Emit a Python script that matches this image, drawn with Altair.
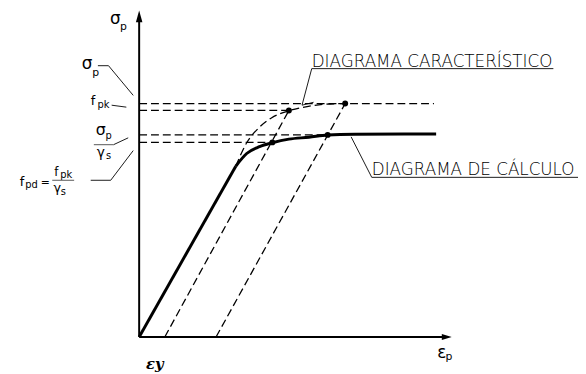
import altair as alt
import pandas as pd

# ---- readings (strain units, stress units) ----
# elastic branch of the design diagram
elastic_eps = [0.0, 30.9]
elastic_sig = [0.0, 52.3]
# curved part of the design diagram (solid)
calc_eps = [30.9, 34.4, 38.5, 42.6, 47.9, 54.3, 60.3, 69.1, 95.0]
calc_sig = [52.3, 56.2, 58.3, 59.5, 60.6, 61.2, 61.9, 62.1, 62.2]
# characteristic diagram (dashed)
char_eps = [30.9, 34.4, 38.2, 42.3, 47.9, 53.3, 59.6, 65.9, 94.3]
char_sig = [52.3, 59.5, 64.0, 67.1, 69.3, 70.5, 71.3, 71.5, 71.5]
# parallel offset lines (dashed)
off_start = [8.2, 24.6]
off_end_eps = [47.9, 65.9]
off_end_sig = [69.4, 71.5]
# horizontal reference levels (dashed): sigma_p, fpk, sigma_p/gs, fpd
level_sig = [71.5, 69.4, 61.9, 59.6]
level_end = [65.9, 47.9, 60.3, 42.6]
# marked points
dot_eps = [47.9, 65.9, 42.6, 60.3]
dot_sig = [69.4, 71.5, 59.6, 61.9]

# ---- annotation geometry (leader lines, fraction bars) ----
leaders = [
    (-13.2, 83.1, -9.8, 83.1), (-9.8, 83.1, -1.9, 74.0),      # sigma_p
    (-8.8, 71.0, -4.1, 70.4),                                  # fpk
    (-8.2, 58.9, -3.5, 61.0),                                  # sigma_p/gs
    (-15.5, 48.0, -9.1, 48.0), (-9.1, 48.0, -1.9, 57.1),       # fpd
    (55.2, 82.2, 132.5, 82.2), (55.2, 82.2, 52.1, 71.0), (52.1, 71.0, 55.8, 71.9),
    (67.8, 61.3, 74.4, 48.9), (74.4, 48.9, 140.4, 48.9),
]
bars = [(-14.5, 58.9, -8.2, 58.9), (-27.8, 48.0, -20.8, 48.0)]

labels = pd.DataFrame([
    (-7.6, 97.3, "σ", 17), (-5.0, 94.9, "p", 11),
    (-16.7, 83.7, "σ", 17), (-13.9, 81.0, "p", 11),
    (-14.8, 72.2, "f", 13), (-11.4, 71.0, "pk", 10),
    (-12.3, 63.4, "σ", 16), (-9.8, 61.6, "p", 10),
    (-12.3, 56.2, "γ", 14), (-9.8, 55.3, "s", 10),
    (-37.5, 47.4, "f", 13), (-34.4, 46.5, "pd", 10),
    (-30.0, 47.1, "=", 11),
    (-26.5, 50.5, "f", 12), (-23.3, 49.5, "pk", 10),
    (-26.2, 45.6, "γ", 13), (-24.3, 44.4, "s", 10),
    (96.8, -4.8, "ε", 17), (99.1, -6.3, "p", 11),
], columns=["x", "y", "text", "size"])

diag_labels = pd.DataFrame([
    (55.2, 82.8, "DIAGRAMA CARACTERÍSTICO"),
    (74.4, 49.5, "DIAGRAMA DE CÁLCULO"),
], columns=["x", "y", "text"])

xs = alt.Scale(domain=[0, 100], nice=False, zero=False)
ys = alt.Scale(domain=[0, 100], nice=False, zero=False)
X = lambda f: alt.X(f, scale=xs, axis=None)
Y = lambda f: alt.Y(f, scale=ys, axis=None)

def seg_df(rows):
    return pd.DataFrame(rows, columns=["x", "y", "x2", "y2"])

DASH = [8, 4]

axes = alt.Chart(seg_df([(0, 0, 0, 97.5), (0, 0, 98.0, 0)])).mark_rule(
    color="black", strokeWidth=2).encode(x=X("x:Q"), y=Y("y:Q"), x2="x2:Q", y2="y2:Q")

arrow_up = alt.Chart(pd.DataFrame({"x": [0.0], "y": [98.2]})).mark_point(
    shape="M0,-1L0.55,1L-0.55,1Z", size=144, filled=True, color="black", opacity=1
).encode(x=X("x:Q"), y=Y("y:Q"))
arrow_right = alt.Chart(pd.DataFrame({"x": [98.4], "y": [0.0]})).mark_point(
    shape="M1,0L-1,-0.6L-1,0.6Z", size=100, filled=True, color="black", opacity=1
).encode(x=X("x:Q"), y=Y("y:Q"))

elastic = alt.Chart(pd.DataFrame({"x": elastic_eps, "y": elastic_sig})).mark_line(
    color="black", strokeWidth=3).encode(x=X("x:Q"), y=Y("y:Q"))
calc = alt.Chart(pd.DataFrame({"x": calc_eps, "y": calc_sig, "o": range(len(calc_eps))})).mark_line(
    color="black", strokeWidth=3, interpolate="monotone").encode(x=X("x:Q"), y=Y("y:Q"), order="o:O")
char = alt.Chart(pd.DataFrame({"x": char_eps, "y": char_sig, "o": range(len(char_eps))})).mark_line(
    color="black", strokeWidth=1.3, strokeDash=DASH, interpolate="monotone").encode(
    x=X("x:Q"), y=Y("y:Q"), order="o:O")

offsets = alt.Chart(seg_df([(s, 0, e, v) for s, e, v in zip(off_start, off_end_eps, off_end_sig)])).mark_rule(
    color="black", strokeWidth=1.3, strokeDash=DASH).encode(x=X("x:Q"), y=Y("y:Q"), x2="x2:Q", y2="y2:Q")
levels = alt.Chart(seg_df([(0, v, e, v) for v, e in zip(level_sig, level_end)])).mark_rule(
    color="black", strokeWidth=1.3, strokeDash=DASH).encode(x=X("x:Q"), y=Y("y:Q"), x2="x2:Q", y2="y2:Q")

dots = alt.Chart(pd.DataFrame({"x": dot_eps, "y": dot_sig})).mark_circle(
    size=36, color="black", opacity=1).encode(x=X("x:Q"), y=Y("y:Q"))

lead = alt.Chart(seg_df(leaders)).mark_rule(color="black", strokeWidth=0.9).encode(
    x=X("x:Q"), y=Y("y:Q"), x2="x2:Q", y2="y2:Q")
fracs = alt.Chart(seg_df(bars)).mark_rule(color="#444", strokeWidth=0.9).encode(
    x=X("x:Q"), y=Y("y:Q"), x2="x2:Q", y2="y2:Q")

txt = alt.Chart(labels).mark_text(font="DejaVu Sans", color="black", align="center", baseline="middle").encode(
    x=X("x:Q"), y=Y("y:Q"), text="text:N", size=alt.Size("size:Q", scale=None, legend=None))
diag = alt.Chart(diag_labels).mark_text(font="DejaVu Sans", fontSize=17, fontWeight=200, color="black",
                                        align="left", baseline="alphabetic").encode(
    x=X("x:Q"), y=Y("y:Q"), text="text:N")
eps_y = alt.Chart(pd.DataFrame({"x": [5.0], "y": [-8.2], "text": ["εy"]})).mark_text(
    font="DejaVu Serif", fontStyle="italic", fontWeight="bold", fontSize=15, color="black",
    align="center", baseline="middle").encode(x=X("x:Q"), y=Y("y:Q"), text="text:N")

chart = alt.layer(
    levels, offsets, char, elastic, calc, dots, axes, arrow_up, arrow_right,
    lead, fracs, txt, diag, eps_y
).properties(
    width=317, height=331,
    padding={"left": 133, "top": 0, "right": 128, "bottom": 35},
    autosize=alt.AutoSizeParams(type="none"),
    background="white",
).configure_view(stroke=None)

chart.save("out.html", embed_options={"renderer": "svg", "actions": False})
